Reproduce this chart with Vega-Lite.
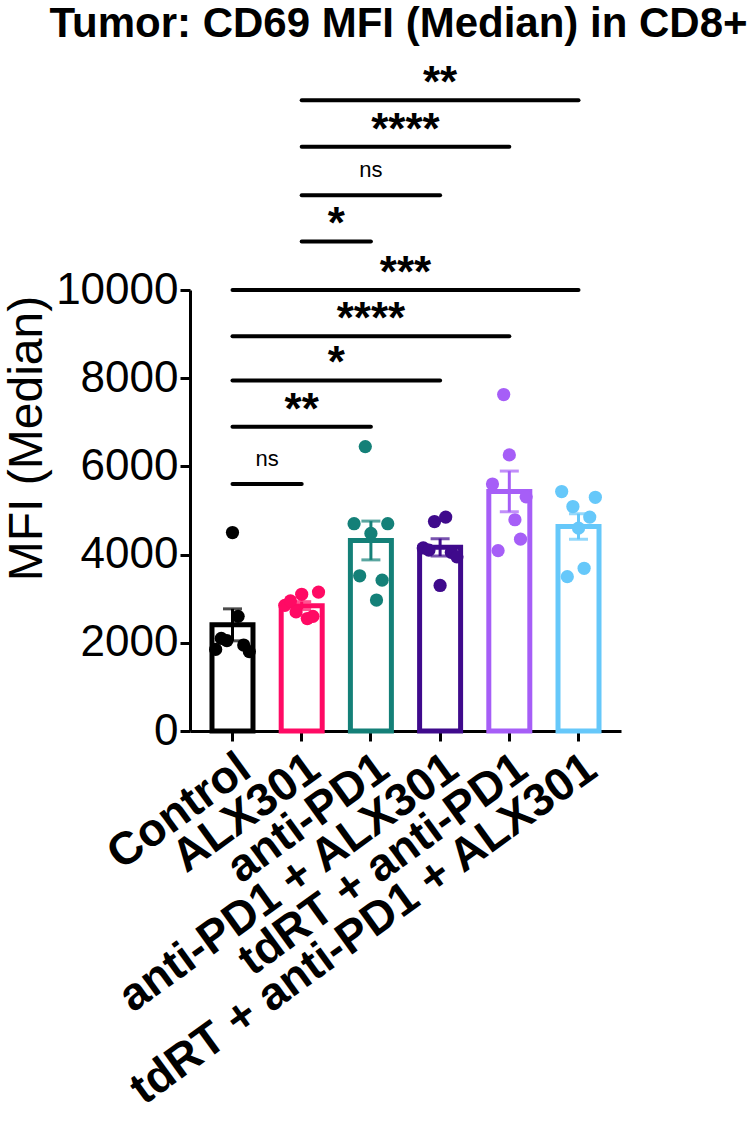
{
  "$schema": "https://vega.github.io/schema/vega-lite/v6.json",
  "width": 431,
  "height": 441,
  "autosize": {"type": "none"},
  "padding": {"left": 190, "top": 290, "right": 134, "bottom": 394},
  "background": "white",
  "title": {
    "text": "Tumor: CD69 MFI (Median) in CD8+",
    "font": "Liberation Sans",
    "fontSize": 42,
    "fontWeight": "bold",
    "color": "black",
    "anchor": "middle",
    "frame": "group",
    "offset": 16,
    "dx": -7
  },
  "config": {"view": {"stroke": null}, "font": "Liberation Sans"},
  "datasets": {
    "groups": [
      {"group": "Control", "order": 1},
      {"group": "ALX301", "order": 2},
      {"group": "anti-PD1", "order": 3},
      {"group": "anti-PD1 + ALX301", "order": 4},
      {"group": "tdRT + anti-PD1", "order": 5},
      {"group": "tdRT + anti-PD1 + ALX301", "order": 6}
    ],
    "mice": [
      {"group": "Control", "mouse": 1, "mfi": 1850},
      {"group": "Control", "mouse": 2, "mfi": 2100},
      {"group": "Control", "mouse": 3, "mfi": 2050},
      {"group": "Control", "mouse": 4, "mfi": 4500},
      {"group": "Control", "mouse": 5, "mfi": 2600},
      {"group": "Control", "mouse": 6, "mfi": 1950},
      {"group": "Control", "mouse": 7, "mfi": 1800},
      {"group": "ALX301", "mouse": 1, "mfi": 2850},
      {"group": "ALX301", "mouse": 2, "mfi": 2950},
      {"group": "ALX301", "mouse": 3, "mfi": 2700},
      {"group": "ALX301", "mouse": 4, "mfi": 3100},
      {"group": "ALX301", "mouse": 5, "mfi": 2550},
      {"group": "ALX301", "mouse": 6, "mfi": 2600},
      {"group": "ALX301", "mouse": 7, "mfi": 3150},
      {"group": "anti-PD1", "mouse": 1, "mfi": 4700},
      {"group": "anti-PD1", "mouse": 2, "mfi": 3520},
      {"group": "anti-PD1", "mouse": 3, "mfi": 6450},
      {"group": "anti-PD1", "mouse": 4, "mfi": 4480},
      {"group": "anti-PD1", "mouse": 5, "mfi": 2970},
      {"group": "anti-PD1", "mouse": 6, "mfi": 3420},
      {"group": "anti-PD1", "mouse": 7, "mfi": 4700},
      {"group": "anti-PD1 + ALX301", "mouse": 1, "mfi": 4150},
      {"group": "anti-PD1 + ALX301", "mouse": 2, "mfi": 4100},
      {"group": "anti-PD1 + ALX301", "mouse": 3, "mfi": 4750},
      {"group": "anti-PD1 + ALX301", "mouse": 4, "mfi": 3300},
      {"group": "anti-PD1 + ALX301", "mouse": 5, "mfi": 4850},
      {"group": "anti-PD1 + ALX301", "mouse": 6, "mfi": 4050},
      {"group": "anti-PD1 + ALX301", "mouse": 7, "mfi": 3950},
      {"group": "tdRT + anti-PD1", "mouse": 1, "mfi": 5600},
      {"group": "tdRT + anti-PD1", "mouse": 2, "mfi": 4090},
      {"group": "tdRT + anti-PD1", "mouse": 3, "mfi": 7630},
      {"group": "tdRT + anti-PD1", "mouse": 4, "mfi": 6260},
      {"group": "tdRT + anti-PD1", "mouse": 5, "mfi": 4790},
      {"group": "tdRT + anti-PD1", "mouse": 6, "mfi": 4350},
      {"group": "tdRT + anti-PD1", "mouse": 7, "mfi": 5310},
      {"group": "tdRT + anti-PD1 + ALX301", "mouse": 1, "mfi": 5430},
      {"group": "tdRT + anti-PD1 + ALX301", "mouse": 2, "mfi": 3500},
      {"group": "tdRT + anti-PD1 + ALX301", "mouse": 3, "mfi": 5090},
      {"group": "tdRT + anti-PD1 + ALX301", "mouse": 4, "mfi": 4600},
      {"group": "tdRT + anti-PD1 + ALX301", "mouse": 5, "mfi": 3690},
      {"group": "tdRT + anti-PD1 + ALX301", "mouse": 6, "mfi": 4850},
      {"group": "tdRT + anti-PD1 + ALX301", "mouse": 7, "mfi": 5300}
    ],
    "comparisons": [
      {"pair": 1, "group": "Control", "sig": "ns", "level": 5600},
      {"pair": 1, "group": "ALX301", "sig": "ns", "level": 5600},
      {"pair": 2, "group": "Control", "sig": "**", "level": 6900},
      {"pair": 2, "group": "anti-PD1", "sig": "**", "level": 6900},
      {"pair": 3, "group": "Control", "sig": "*", "level": 7950},
      {"pair": 3, "group": "anti-PD1 + ALX301", "sig": "*", "level": 7950},
      {"pair": 4, "group": "Control", "sig": "****", "level": 8950},
      {"pair": 4, "group": "tdRT + anti-PD1", "sig": "****", "level": 8950},
      {"pair": 5, "group": "Control", "sig": "***", "level": 10000},
      {"pair": 5, "group": "tdRT + anti-PD1 + ALX301", "sig": "***", "level": 10000},
      {"pair": 6, "group": "ALX301", "sig": "*", "level": 11100},
      {"pair": 6, "group": "anti-PD1", "sig": "*", "level": 11100},
      {"pair": 7, "group": "ALX301", "sig": "ns", "level": 12150},
      {"pair": 7, "group": "anti-PD1 + ALX301", "sig": "ns", "level": 12150},
      {"pair": 8, "group": "ALX301", "sig": "****", "level": 13250},
      {"pair": 8, "group": "tdRT + anti-PD1", "sig": "****", "level": 13250},
      {"pair": 9, "group": "ALX301", "sig": "**", "level": 14300},
      {"pair": 9, "group": "tdRT + anti-PD1 + ALX301", "sig": "**", "level": 14300}
    ]
  },
  "layer": [
    {
      "data": {"name": "mice"},
      "encoding": {
        "x": {
          "field": "group",
          "type": "nominal",
          "scale": {
            "domain": ["Control", "ALX301", "anti-PD1", "anti-PD1 + ALX301", "tdRT + anti-PD1", "tdRT + anti-PD1 + ALX301"],
            "paddingInner": 0.4,
            "paddingOuter": 0.314
          },
          "axis": {
            "title": null,
            "labelAngle": -36,
            "labelFont": "Liberation Sans",
            "labelFontSize": 46,
            "labelFontWeight": "bold",
            "labelColor": "black",
            "labelPadding": 4,
            "labelLimit": 1000,
            "tickSize": 10,
            "tickWidth": 3,
            "tickColor": "black",
            "domainWidth": 3,
            "domainColor": "black"
          }
        },
        "color": {
          "field": "group",
          "type": "nominal",
          "scale": {
            "domain": ["Control", "ALX301", "anti-PD1", "anti-PD1 + ALX301", "tdRT + anti-PD1", "tdRT + anti-PD1 + ALX301"],
            "range": ["#000000", "#FF0A64", "#148078", "#3F0A8C", "#A65EF7", "#66C8FA"]
          },
          "legend": null
        }
      },
      "layer": [
        {
          "mark": {"type": "bar", "fill": "white", "strokeWidth": 5, "strokeJoin": "miter", "width": 41},
          "encoding": {
            "y": {
              "aggregate": "mean",
              "field": "mfi",
              "type": "quantitative",
              "title": "MFI (Median)",
              "scale": {"domain": [0, 10000], "nice": false},
              "axis": {
                "values": [0, 2000, 4000, 6000, 8000, 10000],
                "format": "d",
                "grid": false,
                "labelFont": "Liberation Sans",
                "labelFontSize": 44,
                "labelColor": "black",
                "labelPadding": 2,
                "tickSize": 10,
                "tickWidth": 3,
                "tickColor": "black",
                "domainWidth": 3,
                "domainColor": "black",
                "titleFont": "Liberation Sans",
                "titleFontSize": 48,
                "titleFontWeight": "normal",
                "titleColor": "black",
                "titlePadding": 4,
                "titleY": 148
              }
            },
            "stroke": {
              "field": "group",
              "type": "nominal",
              "scale": {
                "domain": ["Control", "ALX301", "anti-PD1", "anti-PD1 + ALX301", "tdRT + anti-PD1", "tdRT + anti-PD1 + ALX301"],
                "range": ["#000000", "#FF0A64", "#148078", "#3F0A8C", "#A65EF7", "#66C8FA"]
              },
              "legend": null
            }
          }
        },
        {
          "mark": {"type": "errorbar", "extent": "stderr", "ticks": true, "size": 19, "thickness": 3},
          "encoding": {
            "y": {"field": "mfi", "type": "quantitative", "title": "MFI (Median)"}
          }
        },
        {
          "mark": {"type": "circle", "size": 175, "opacity": 1},
          "encoding": {
            "xOffset": {"field": "mouse", "type": "nominal", "scale": {"paddingInner": 0, "paddingOuter": 0.7}},
            "y": {"field": "mfi", "type": "quantitative", "title": "MFI (Median)"}
          }
        }
      ]
    },
    {
      "data": {"name": "comparisons"},
      "transform": [
        {"lookup": "group", "from": {"data": {"name": "groups"}, "key": "group", "fields": ["order"]}}
      ],
      "encoding": {
        "y": {"field": "level", "type": "quantitative", "title": "MFI (Median)"},
        "detail": {"field": "pair", "type": "nominal"}
      },
      "layer": [
        {
          "mark": {"type": "rule", "strokeWidth": 4, "strokeCap": "round", "color": "black"},
          "encoding": {
            "x": {"aggregate": "min", "field": "order", "type": "quantitative", "scale": {"domain": [0.386, 6.614], "nice": false, "zero": false}, "axis": null},
            "x2": {"aggregate": "max", "field": "order"}
          }
        },
        {
          "transform": [{"filter": "datum.sig != 'ns'"}],
          "mark": {"type": "text", "font": "Liberation Sans", "fontSize": 44, "fontWeight": "bold", "baseline": "alphabetic", "dy": -3, "color": "black"},
          "encoding": {
            "x": {"aggregate": "mean", "field": "order", "type": "quantitative"},
            "text": {"field": "sig", "type": "nominal"}
          }
        },
        {
          "transform": [{"filter": "datum.sig == 'ns'"}],
          "mark": {"type": "text", "font": "Liberation Sans", "fontSize": 22, "baseline": "alphabetic", "dy": -18, "color": "black"},
          "encoding": {
            "x": {"aggregate": "mean", "field": "order", "type": "quantitative"},
            "text": {"field": "sig", "type": "nominal"}
          }
        }
      ]
    }
  ],
  "resolve": {"scale": {"x": "independent"}}
}
